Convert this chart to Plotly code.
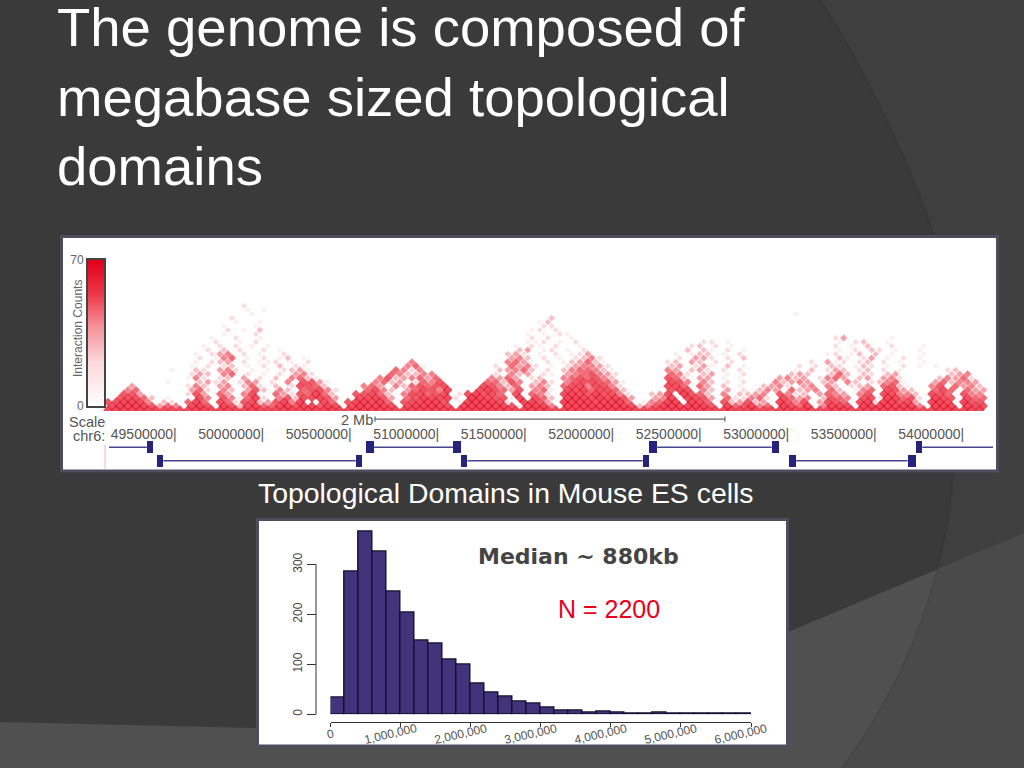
import plotly.graph_objects as go

# ---------- data ----------
TITLE_LINES = ["The genome is composed of", "megabase sized topological", "domains"]

HIST_VALUES = [34, 286, 366, 326, 246, 203, 148, 142, 110, 100, 62, 44, 36, 26, 21,
               13, 8, 7, 3, 6, 4, 1, 1, 3, 1, 1, 1, 0.5, 0.5, 0.5]
HIST_BIN_WIDTH = 200000
HIST_X_TICKS = [0, 1000000, 2000000, 3000000, 4000000, 5000000, 6000000]
HIST_X_LABELS = ["0", "1,000,000", "2,000,000", "3,000,000", "4,000,000", "5,000,000", "6,000,000"]
HIST_Y_TICKS = [0, 100, 200, 300]

GENOME_TICKS = [49.5, 50.0, 50.5, 51.0, 51.5, 52.0, 52.5, 53.0, 53.5, 54.0]
SCALE_BAR = [50.633, 52.633]
COUNT_RAMP = [0, 10, 20, 30, 40, 50, 60, 70]
# domain tracks: row, box start, box end (Mb)
BOX_ROW = [1, 1, 1, 1, 1, 1, 0, 0, 0, 0, 0, 0]
BOX_START = [49.329, 50.582, 51.079, 52.201, 52.900, 53.723, 49.386, 50.523, 51.125, 52.163, 53.000, 53.677]
BOX_END = [49.366, 50.627, 51.123, 52.246, 52.943, 53.761, 49.423, 50.561, 51.161, 52.201, 53.040, 53.723]
LINK_A = [(49.113, 49.329), (50.627, 51.079), (52.246, 52.900), (53.761, 54.165)]
LINK_B = [(49.423, 50.523), (51.161, 52.163), (53.040, 53.677)]

# Hi-C contact intensities, top row first (0 blank, 9 full red)
Z = "0000000000"
HIC_ROWS = [
 [Z,"0000000200",Z,Z,Z,Z,Z,Z,Z,Z,Z],
 [Z,"0000000101",Z,Z,Z,Z,Z,Z,Z,Z,Z],
 [Z,"0000000010",Z,Z,Z,Z,Z,Z,"0000001000",Z,Z],
 [Z,"0000020000",Z,Z,Z,"0000030000",Z,Z,Z,Z,Z],
 [Z,"0000001001",Z,Z,Z,"0000130000",Z,Z,Z,Z,Z],
 [Z,"0000100010",Z,Z,Z,"0000220000",Z,Z,Z,Z,Z],
 [Z,"0000020103",Z,Z,Z,"0001202000",Z,Z,Z,Z,Z],
 [Z,"0000100020",Z,Z,Z,"0010102100",Z,Z,Z,Z,Z],
 [Z,"0001002001",Z,Z,Z,"0002020010",Z,Z,Z,"0240000010",Z],
 [Z,"0002001020",Z,Z,Z,"0011201020",Z,"0000220100",Z,"0102300100",Z],
 [Z,"0010202010","1000000000",Z,Z,"0102102001",Z,"0002302010",Z,"0201030020","0010000000"],
 [Z,"0020302002","0100000000",Z,Z,"0340120102",Z,"0030310201",Z,"0102032010","0100000000"],
 [Z,"0102450201","0020000000",Z,Z,"3420102012","4000000000","0101330102",Z,"1201303010","0010000000"],
 [Z,"0201560102","0130100000",Z,Z,"4530201023","5200000000","0204420203",Z,"0310240102","0100000000"],
 [Z,"0102340201","1201020000","0000000050",Z,"5641020134","6310000000","2304302020","0000000020","4120230201","0010000000"],
 [Z,"1020230102","0302100000","0000000561","0000000020","6452010245","5420000000","3402410301","0000002020","3201320102","0101000000"],
 ["0000000010","0320452010","1023410000","0000006525","0000000003","4563020356","6531000000","5403420202","0000001030","2430230201","0000023000"],
 [Z,"2430560201","0204520000","0000065335","5000000020","5340210456","7542000000","6520340102","0000034300","3630320340","0000034500"],
 [Z,"1520230402","0305631000","0000573456","4600000054","6402300567","6753000000","7630440101","0000453402","5640340452","0000354620"],
 ["0000000100","0342402540","2050774100","0005634026","5700000663","7503520578","8764100000","8750530202","0005345403","4053023561","0004635540"],
 ["0004000000","2530450362","0302876300","0056405367","6780000875","3604530688","5875200000","8860640301","0034520450","5302340673","1005706453"],
 ["0056000000","4620530473","0530678520","0068530468","7590008976","4705610889","6886300000","7980530402","0354063450","6301560874","3006860644"],
 ["0077400000","2740640581","0642769630","0778630588","6780289786","0806520898","7978520034","8097630503","3450752304","6540570885","5308760755"],
 ["0788630100","0850751692","0573889740","0889740679","8892099877","1908630999","8989740045","9098740622","5620864503","7650781996","7209870866"],
 ["7899850320","6960862783","4795900860","7998960788","9970199998","2099740999","9899960156","9909860734","7340975804","8760892997","8409980977"],
 ["8999974650","8970973896","6897997980","8999980899","9980999999","7199950999","9999983579","9999970967","9560986905","9980999999","9509990988"],
 ["9999999999"]*11,
]
HIC_START_MB = 49.107
HIC_BIN_MB = 0.0457

# ---------- helpers ----------
W, H = 1024, 768
def px(x): return x / W
def py(y): return 1 - y / H

def pth(s):
    out = []
    for tok in s.split():
        if "," in tok:
            a, b = tok.split(",")
            out.append(f"{px(float(a)):.5f},{py(float(b)):.5f}")
        else:
            out.append(tok)
    return " ".join(out)

# ---------- Hi-C lattice ----------
hx, hy, hz, hs = [], [], [], []
nrows = len(HIC_ROWS)
for i, blocks in enumerate(HIC_ROWS):
    r = nrows - 1 - i
    for c, ch in enumerate("".join(blocks)):
        if ch != "0":
            hx.append(HIC_START_MB + HIC_BIN_MB * (c + (r % 2) / 2))
            hy.append(HIC_BIN_MB * r)
            hz.append(int(ch) * 70 / 9)
            hs.append(4 + 0.36 * int(ch))

RED_SCALE = [[0, "#ffffff"], [0.25, "#fbc6cb"], [0.5, "#f2606c"], [0.72, "#e81c2c"], [1, "#e2001a"]]
BAR_SCALE = [[0, "#ffffff"], [0.3, "#fcd9dc"], [0.55, "#f58e97"], [0.78, "#ec3545"], [1, "#e2001a"]]

fig = go.Figure()

fig.add_trace(go.Bar(
    x=[HIST_BIN_WIDTH * (i + 0.5) for i in range(len(HIST_VALUES))], y=HIST_VALUES,
    width=HIST_BIN_WIDTH, marker=dict(color="#41347b", line=dict(color="#15102f", width=1.4)),
    cliponaxis=False, xaxis="x", yaxis="y", hoverinfo="skip"))

fig.add_trace(go.Scatter(
    x=hx, y=hy, mode="markers", xaxis="x2", yaxis="y2", hoverinfo="skip",
    marker=dict(symbol="diamond", size=hs, color=hz, cmin=0, cmax=70, colorscale=RED_SCALE,
                line=dict(width=0), showscale=False)))

fig.add_trace(go.Heatmap(
    z=[[v] for v in COUNT_RAMP], y=COUNT_RAMP, x=[0], zmin=0, zmax=70, colorscale=BAR_SCALE,
    zsmooth="best", showscale=False, xaxis="x3", yaxis="y4", hoverinfo="skip"))

link_x, link_y = [], []
for row, links in ((1, LINK_A), (0, LINK_B)):
    for a, b in links:
        link_x += [a, b, None]
        link_y += [row, row, None]
fig.add_trace(go.Scatter(x=link_x, y=link_y, mode="lines", xaxis="x2", yaxis="y3",
                         line=dict(color="#46468f", width=1.6), hoverinfo="skip"))
fig.add_trace(go.Bar(y=BOX_ROW, base=BOX_START, x=[e - s for s, e in zip(BOX_START, BOX_END)],
                     orientation="h", width=0.88, xaxis="x2", yaxis="y3",
                     marker=dict(color="#26247a", line=dict(width=0)), hoverinfo="skip"))
fig.add_trace(go.Scatter(x=GENOME_TICKS, y=[1.88] * len(GENOME_TICKS), mode="text", xaxis="x2", yaxis="y3",
                         text=[f"{int(v * 1000000)}|" for v in GENOME_TICKS], textposition="middle left",
                         textfont=dict(size=14, color="#555555", family="Liberation Sans"), hoverinfo="skip"))
fig.add_trace(go.Scatter(x=[SCALE_BAR[0], SCALE_BAR[0], None, SCALE_BAR[0], SCALE_BAR[1], None, SCALE_BAR[1], SCALE_BAR[1]],
                         y=[3.3, 2.9, None, 3.1, 3.1, None, 3.3, 2.9], mode="lines", xaxis="x2", yaxis="y3",
                         line=dict(color="#666666", width=1.2), hoverinfo="skip"))

dark_axis = dict(color="#333333", linecolor="#333333", linewidth=1, ticks="outside", tickcolor="#333333",
                 showgrid=False, zeroline=False)

fig.update_layout(
    width=W, height=H, margin=dict(l=0, r=0, t=0, b=0, autoexpand=False),
    paper_bgcolor="#3a3a3a", plot_bgcolor="rgba(0,0,0,0)",
    showlegend=False, barmode="overlay", bargap=0, hovermode=False,
    xaxis=dict(**dark_axis, domain=[px(330.5), px(751)], range=[0, 6000000], anchor="free", position=py(722),
               tickvals=HIST_X_TICKS, ticklen=4, showticklabels=False),
    yaxis=dict(**dark_axis, domain=[py(714.3), py(529.6)], range=[0, 370], anchor="free", position=px(316),
               tickvals=HIST_Y_TICKS, tickangle=-90, ticklen=9, showline=False,
               tickfont=dict(size=12, color="#444444", family="Liberation Sans Narrow, Liberation Sans")),
    xaxis2=dict(domain=[px(63), px(996)], range=[48.850, 54.182], visible=False, anchor="y2"),
    yaxis2=dict(domain=[py(411), py(238)], range=[-0.0114, 1.966], visible=False, anchor="x2"),
    yaxis3=dict(domain=[py(470), py(410)], range=[-0.694, 3.784], visible=False, anchor="x2"),
    xaxis3=dict(domain=[px(88), px(104)], range=[-0.5, 0.5], showticklabels=False, ticks="", showgrid=False,
                zeroline=False, showline=True, mirror=True, linecolor="#444444", linewidth=2, anchor="y4"),
    yaxis4=dict(domain=[py(405.7), py(260)], range=[0, 70], tickvals=[0, 70], ticks="", showgrid=False,
                zeroline=False, showline=True, mirror=True, linecolor="#444444", linewidth=2, anchor="x3",
                tickfont=dict(size=12, color="#666666", family="Liberation Sans")),
)

def rect(x0, y0, x1, y1, fill, line="#4d4d5e", lw=3):
    return dict(type="rect", xref="paper", yref="paper", x0=px(x0), y0=py(y0), x1=px(x1), y1=py(y1),
                fillcolor=fill, line=dict(color=line, width=lw), layer="below")

def path(s, fill=None, line=None, lw=0):
    return dict(type="path", xref="paper", yref="paper", path=pth(s), layer="below",
                fillcolor=fill or "rgba(0,0,0,0)",
                line=dict(color=line or "rgba(0,0,0,0)", width=lw))

UPPER = "C 860,60 905,150 933,233 C 948,300 958,400 953,473 C 951,505 945,540 937,570"
LOWER = "C 920,640 885,710 842,768"
fig.update_layout(shapes=[
    path(f"M 820,0 {UPPER} {LOWER} L 1024,768 L 1024,0 Z", fill="#3f3f3f"),
    path("M 0,722 L 256,728 L 788,632 L 1024,533 L 1024,768 L 0,768 Z", fill="#505050"),
    path(f"M 937,570 {LOWER} L 1024,768 L 1024,533 Z", fill="#4a4a4a"),
    path(f"M 820,0 {UPPER}", line="#373737", lw=1.5),
    path(f"M 937,570 {LOWER}", line="#454545", lw=1.5),
    rect(61.5, 236.5, 997.5, 471, "#ffffff"),
    rect(257.5, 519.5, 787.5, 746, "#ffffff"),
    dict(type="line", xref="paper", yref="paper", x0=px(105), x1=px(105), y0=py(445), y1=py(469.5),
         line=dict(color="#f4b6b6", width=1), layer="below"),
    dict(type="line", xref="paper", yref="y", x0=px(316), x1=px(316), y0=0, y1=300,
         line=dict(color="#333333", width=1)),
])

def note(x, y, text, size, color, family="Liberation Sans", anchor="left", angle=0):
    fig.add_annotation(xref="paper", yref="paper", x=px(x), y=py(y), text=text, showarrow=False,
                       xanchor=anchor, yanchor="middle", textangle=angle, align="left",
                       font=dict(size=size, color=color, family=family))

for tick, label in zip(HIST_X_TICKS, HIST_X_LABELS):
    fig.add_annotation(xref="x", yref="paper", x=tick, y=py(734), xshift=0 if tick == 0 else -10,
                       text=label, showarrow=False, textangle=-13, xanchor="center", yanchor="middle",
                       font=dict(size=12, color="#555555", family="Liberation Sans"))

for line, yy in zip(TITLE_LINES, (27, 97, 167)):
    note(55, yy, line, 54.5, "#ffffff")
note(256, 493, "Topological Domains in Mouse ES cells", 28.4, "#ffffff")
note(476, 556, "<b>Median ~ 880kb</b>", 22, "#444444", family="DejaVu Sans")
note(556, 609, "N = 2200", 25, "#e8001c")
note(78, 329, "Interaction Counts", 12, "#666666", anchor="center", angle=-90)
note(67, 422, "Scale", 14.5, "#555555")
note(107, 436, "chr6:", 14.5, "#555555", anchor="right")
note(375, 420, "2 Mb", 14.5, "#555555", anchor="right")

fig.write_html("out.html", config={"displayModeBar": False}, post_script=(
    "document.body.style.margin='0';document.body.style.background='#3a3a3a';"
    "document.documentElement.style.overflow='hidden';"))
